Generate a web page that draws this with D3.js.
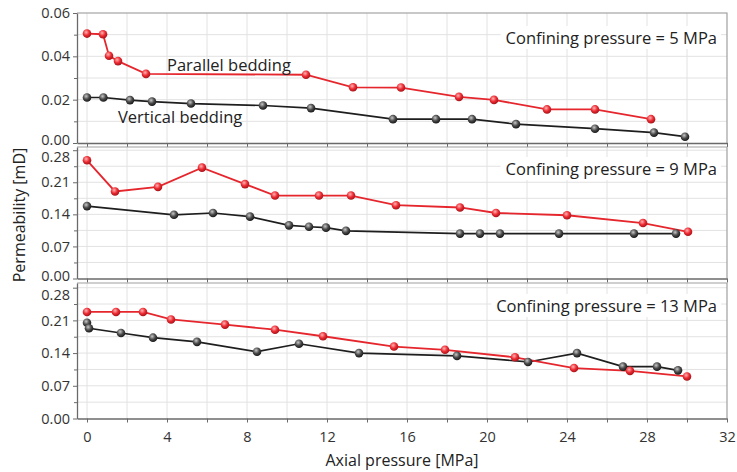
<!DOCTYPE html>
<html>
<head>
<meta charset="utf-8">
<script src="https://cdn.jsdelivr.net/npm/d3@7"></script>
<style>
  body { margin: 0; background: #fff; }
  text { font-family: "Open Sans", "Noto Sans", sans-serif; }
</style>
</head>
<body>
<div id="chart"></div>
<script>
// datos (presion axial en MPa, permeabilidad en mD)
var confining = [5, 9, 13];

var parX5 = [0, 0.8, 1.1, 1.55, 2.95, 10.95, 13.3, 15.7, 18.6, 20.35, 23.0, 25.4, 28.2];
var parY5 = [0.0505, 0.0502, 0.0403, 0.0378, 0.0319, 0.0315, 0.0257, 0.0256, 0.0213, 0.0199, 0.0155, 0.0155, 0.0110];
var verX5 = [0, 0.82, 2.15, 3.25, 5.2, 8.8, 11.2, 15.3, 17.45, 19.25, 21.45, 25.4, 28.35, 29.9];
var verY5 = [0.0210, 0.0210, 0.0198, 0.0191, 0.0182, 0.0173, 0.0161, 0.0110, 0.0110, 0.0110, 0.0087, 0.0066, 0.0048, 0.0029];

var parX9 = [0, 1.4, 3.55, 5.75, 7.9, 9.4, 11.6, 13.2, 15.45, 18.65, 20.45, 24.0, 27.8, 30.05];
var parY9 = [0.258, 0.190, 0.200, 0.242, 0.206, 0.181, 0.181, 0.181, 0.160, 0.155, 0.143, 0.138, 0.121, 0.102];
var verX9 = [0, 4.35, 6.3, 8.15, 10.1, 11.1, 11.95, 12.95, 18.65, 19.65, 20.65, 23.6, 27.35, 29.45];
var verY9 = [0.158, 0.139, 0.143, 0.135, 0.116, 0.113, 0.111, 0.104, 0.098, 0.098, 0.098, 0.098, 0.098, 0.098];

var parX13 = [0, 1.45, 2.8, 4.2, 6.9, 9.4, 11.8, 15.35, 17.9, 21.4, 24.35, 27.15, 30.0];
var parY13 = [0.228, 0.228, 0.228, 0.212, 0.201, 0.190, 0.176, 0.154, 0.147, 0.131, 0.108, 0.102, 0.090];
var verX13 = [0, 0.1, 1.7, 3.3, 5.5, 8.5, 10.6, 13.6, 18.5, 22.05, 24.5, 26.8, 28.5, 29.55];
var verY13 = [0.205, 0.193, 0.183, 0.173, 0.164, 0.143, 0.160, 0.140, 0.134, 0.121, 0.140, 0.111, 0.111, 0.103];

var xTicks = [0, 4, 8, 12, 16, 20, 24, 28, 32];
var xMinor = [2, 6, 10, 14, 18, 22, 26, 30];
var yTicksTop = [0, 0.02, 0.04, 0.06];
var yMinorTop = [0.01, 0.03, 0.05];
var yTicks = [0, 0.07, 0.14, 0.21, 0.28];
var yMinor = [0.035, 0.105, 0.175, 0.245];

var width = 737, height = 472;
var left = 77, right = 727;

// paneles: posicion vertical y dominio
var panels = [
  { top: 13, bottom: 143, max: 0.06, ticks: yTicksTop, minor: yMinorTop,
    par: [parX5, parY5], ver: [verX5, verY5], p: confining[0], ly: 44 },
  { top: 147, bottom: 278.5, max: 0.287, ticks: yTicks, minor: yMinor,
    par: [parX9, parY9], ver: [verX9, verY9], p: confining[1], ly: 175 },
  { top: 283, bottom: 418.5, max: 0.29, ticks: yTicks, minor: yMinor,
    par: [parX13, parY13], ver: [verX13, verY13], p: confining[2], ly: 312 }
];

var svg = d3.select("#chart").append("svg")
  .attr("width", width)
  .attr("height", height);

// gradientes para los marcadores tipo esfera
var defs = svg.append("defs");
function sphere(id, c0, c1, c2) {
  var g = defs.append("radialGradient").attr("id", id)
    .attr("cx", "40%").attr("cy", "35%").attr("r", "65%");
  g.append("stop").attr("offset", "0%").attr("stop-color", c0);
  g.append("stop").attr("offset", "55%").attr("stop-color", c1);
  g.append("stop").attr("offset", "100%").attr("stop-color", c2);
}
sphere("redBall", "#ffb3b3", "#ec2a32", "#a8141a");
sphere("blackBall", "#c8c8c8", "#4a4a4a", "#1a1a1a");

var x = d3.scaleLinear().domain([-0.5, 32]).range([left, right]);

panels.forEach(function(pn, i) {
  var y = d3.scaleLinear().domain([0, pn.max]).range([pn.bottom, pn.top]);
  var g = svg.append("g");

  // rejilla
  g.append("g").selectAll("line")
    .data(xTicks.concat(xMinor).filter(function(d) { return d < 32; }))
    .join("line")
    .attr("x1", function(d) { return x(d); })
    .attr("x2", function(d) { return x(d); })
    .attr("y1", pn.top).attr("y2", pn.bottom)
    .attr("stroke", "#e2e2e2").attr("stroke-width", 1);

  g.append("g").selectAll("line")
    .data(pn.ticks.concat(pn.minor).filter(function(d) { return d > 0; }))
    .join("line")
    .attr("x1", left).attr("x2", right)
    .attr("y1", function(d) { return y(d); })
    .attr("y2", function(d) { return y(d); })
    .attr("stroke", "#e2e2e2").attr("stroke-width", 1);

  // marco superior y derecho
  g.append("path")
    .attr("d", "M" + left + "," + pn.top + "H" + right + "V" + pn.bottom)
    .attr("fill", "none").attr("stroke", "#a0a0a0").attr("stroke-width", 1.2);

  // leyenda del panel, con fondo blanco
  var lg = g.append("g");
  var lbl = lg.append("text")
    .attr("x", 717).attr("y", pn.ly)
    .attr("text-anchor", "end")
    .attr("font-size", "16.5px").attr("fill", "#222")
    .text("Confining pressure = " + pn.p + " MPa");
  var bb = lbl.node().getBBox();
  lg.insert("rect", function() { return lbl.node(); })
    .attr("x", bb.x - 5).attr("y", bb.y)
    .attr("width", bb.width + 9).attr("height", bb.height)
    .attr("fill", "#fff");

  // ejes
  var yAxis = d3.axisLeft(y).tickValues(pn.ticks).tickSize(4).tickSizeOuter(0)
    .tickPadding(3).tickFormat(d3.format(".2f"));
  var ya = g.append("g").attr("transform", "translate(" + left + ",0)").call(yAxis);
  ya.append("g").call(d3.axisLeft(y).tickValues(pn.minor).tickSize(3).tickFormat(""))
    .select(".domain").remove();

  var xAxis = d3.axisBottom(x).tickValues(xTicks).tickSize(4).tickSizeOuter(0)
    .tickPadding(9).tickFormat(i === 2 ? d3.format("d") : "");
  var xa = g.append("g").attr("transform", "translate(0," + pn.bottom + ")").call(xAxis);
  xa.append("g").call(d3.axisBottom(x).tickValues(xMinor).tickSize(4).tickFormat(""))
    .select(".domain").remove();

  [ya, xa].forEach(function(a) {
    a.selectAll(".domain").attr("stroke", "#6a6a6a").attr("stroke-width", 1.3);
    a.selectAll(".tick line").attr("stroke", "#6a6a6a");
    a.attr("font-family", null).attr("font-size", null);
    a.selectAll("text").attr("font-size", "14.5px").attr("fill", "#333");
  });
  // las etiquetas de los extremos se separan un poco entre paneles
  if (i > 0) {
    ya.selectAll(".tick text").filter(function(d) { return d === 0.28; })
      .attr("y", 7);
  }
  if (i < 2) {
    ya.selectAll(".tick text").filter(function(d) { return d === 0; })
      .attr("y", -3);
  }

  // series
  var line = d3.line()
    .x(function(d) { return x(d[0]); })
    .y(function(d) { return y(d[1]); });

  var ver = d3.zip(pn.ver[0], pn.ver[1]);
  var par = d3.zip(pn.par[0], pn.par[1]);

  g.append("path").datum(ver).attr("d", line)
    .attr("fill", "none").attr("stroke", "#1e1e1e").attr("stroke-width", 1.7);
  g.append("path").datum(par).attr("d", line)
    .attr("fill", "none").attr("stroke", "#e5262d").attr("stroke-width", 1.8);

  g.append("g").selectAll("circle").data(ver).join("circle")
    .attr("cx", function(d) { return x(d[0]); })
    .attr("cy", function(d) { return y(d[1]); })
    .attr("r", 4.3).attr("fill", "url(#blackBall)");
  g.append("g").selectAll("circle").data(par).join("circle")
    .attr("cx", function(d) { return x(d[0]); })
    .attr("cy", function(d) { return y(d[1]); })
    .attr("r", 4.3).attr("fill", "url(#redBall)");

  if (i === 0) {
    g.append("text").attr("x", 167).attr("y", 71)
      .attr("font-size", "16.5px").attr("fill", "#222").text("Parallel bedding");
    g.append("text").attr("x", 118).attr("y", 123)
      .attr("font-size", "16.5px").attr("fill", "#222").text("Vertical bedding");
  }
});

// titulos de ejes
svg.append("text")
  .attr("transform", "translate(25,215) rotate(-90)")
  .attr("text-anchor", "middle")
  .attr("font-size", "16px").attr("fill", "#222")
  .text("Permeability [mD]");

svg.append("text")
  .attr("x", 402).attr("y", 466)
  .attr("text-anchor", "middle")
  .attr("font-size", "16px").attr("fill", "#222")
  .text("Axial pressure [MPa]");
</script>
</body>
</html>
